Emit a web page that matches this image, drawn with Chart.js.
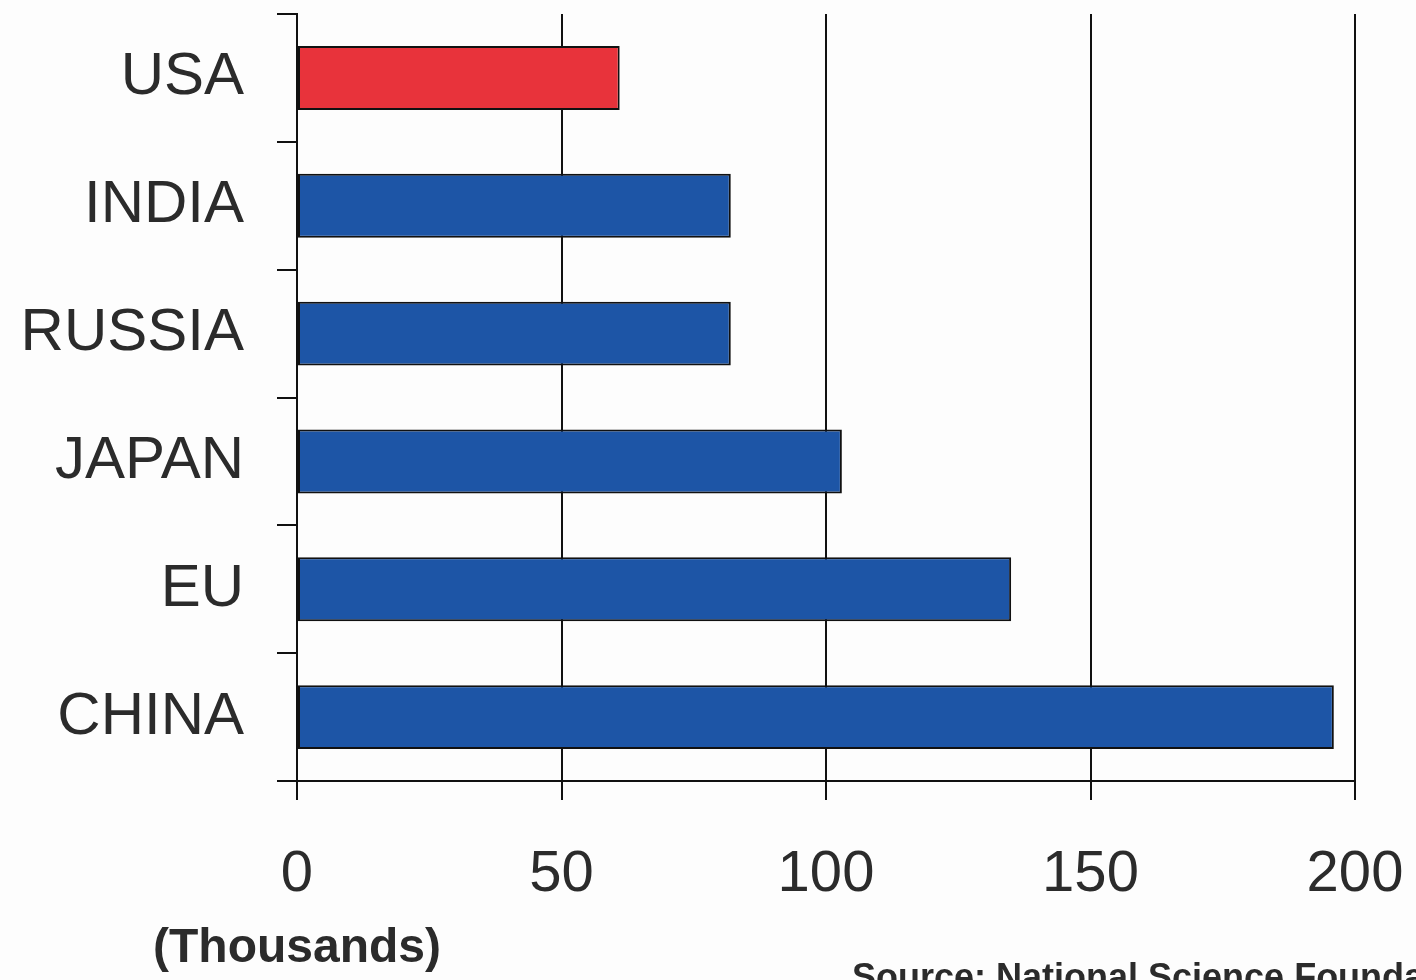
<!DOCTYPE html>
<html>
<head>
<meta charset="utf-8">
<style>
  html, body { margin: 0; padding: 0; background: #fdfdfd; }
  #wrap { width: 1416px; height: 980px; position: relative; }
  canvas { display: block; }
</style>
<script src="https://cdn.jsdelivr.net/npm/chart.js@4/dist/chart.umd.min.js"></script>
</head>
<body>
<div id="wrap"><canvas id="c" width="1416" height="980"></canvas></div>
<script>
// Graduates by country (thousands)
const countries = ['USA', 'INDIA', 'RUSSIA', 'JAPAN', 'EU', 'CHINA'];
const graduates = [61, 82, 82, 103, 135, 196];
const barColors = ['#e8333b', '#1d55a6', '#1d55a6', '#1d55a6', '#1d55a6', '#1d55a6'];
const xTicks = [0, 50, 100, 150, 200];
const unitNote = '(Thousands)';
const sourceNote = 'Source: National Science Foundation';

const INK = '#2b2b2b';
const FONT = '"Liberation Sans", Arial, Helvetica, sans-serif';

// Footnotes drawn under the axis
const notes = {
  id: 'notes',
  afterDraw(chart) {
    const ctx = chart.ctx;
    const x0 = chart.scales.x.getPixelForValue(0);
    ctx.save();
    ctx.fillStyle = INK;
    ctx.textBaseline = 'alphabetic';
    ctx.font = 'bold 48px ' + FONT;
    ctx.textAlign = 'center';
    ctx.fillText(unitNote, x0, 962);
    ctx.font = 'bold 36px ' + FONT;
    ctx.textAlign = 'left';
    ctx.fillText(sourceNote, 852, 989);
    ctx.restore();
  }
};

new Chart(document.getElementById('c'), {
  type: 'bar',
  data: {
    labels: countries,
    datasets: [{
      data: graduates,
      backgroundColor: barColors,
      borderColor: '#111',
      borderWidth: 2,
      borderSkipped: false,
      categoryPercentage: 1,
      barPercentage: 0.5
    }]
  },
  options: {
    indexAxis: 'y',
    responsive: false,
    animation: false,
    devicePixelRatio: 1,
    layout: { padding: { top: 14, right: 61, left: 0, bottom: 0 } },
    plugins: { legend: { display: false }, tooltip: { enabled: false } },
    scales: {
      x: {
        min: 0,
        max: 200,
        afterBuildTicks(axis) { axis.ticks = xTicks.map(v => ({ value: v })); },
        afterFit(axis) {
          axis.height = 199;
          axis.paddingLeft = 0;
          axis.paddingRight = 0;
        },
        grid: {
          color: '#111',
          lineWidth: 2,
          tickLength: 19,
          drawOnChartArea: true
        },
        border: { display: true, color: '#111', width: 2 },
        ticks: {
          color: INK,
          font: { family: FONT, size: 58 },
          padding: 40,
          maxRotation: 0
        }
      },
      y: {
        afterFit(axis) {
          axis.width = 297;
          axis.paddingTop = 0;
          axis.paddingBottom = 0;
        },
        grid: {
          offset: true,
          drawOnChartArea: false,
          color: '#111',
          lineWidth: 2,
          tickLength: 20
        },
        border: { display: true, color: '#111', width: 2 },
        ticks: {
          color: INK,
          font: { family: FONT, size: 60 },
          padding: 33
        }
      }
    }
  },
  plugins: [notes]
});
</script>
</body>
</html>
